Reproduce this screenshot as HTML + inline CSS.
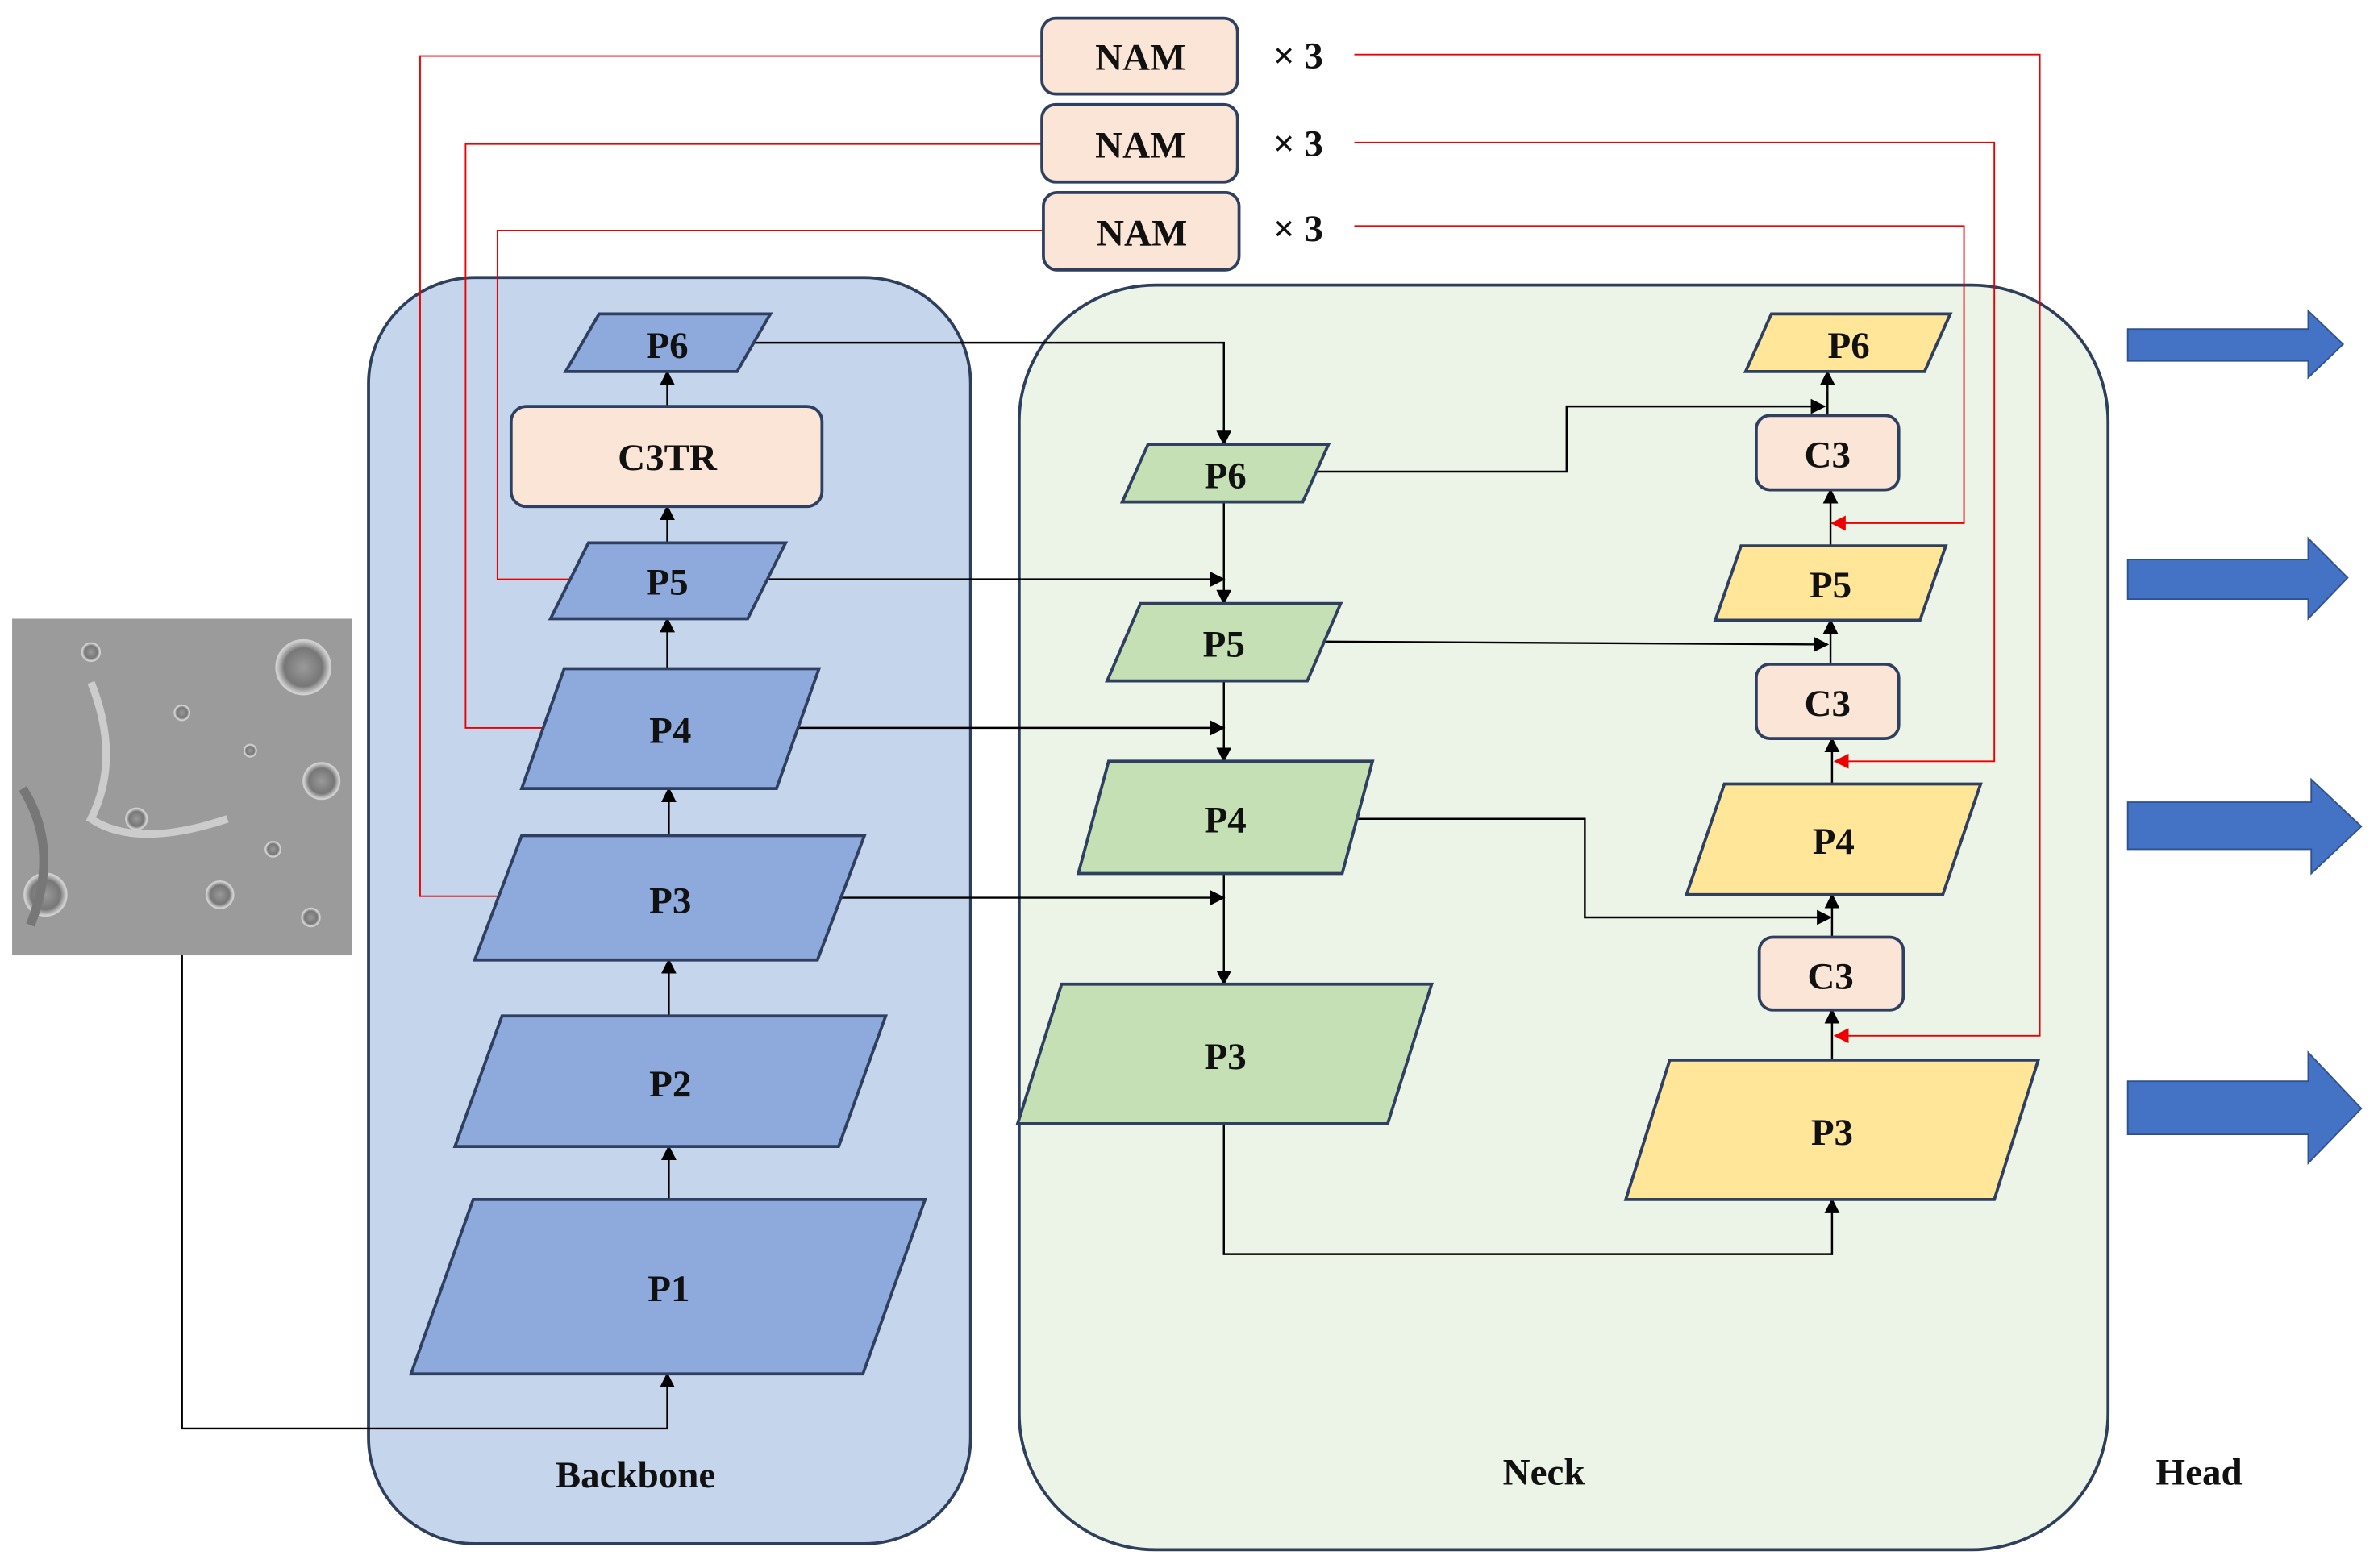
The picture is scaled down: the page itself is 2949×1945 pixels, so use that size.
<!DOCTYPE html>
<html><head><meta charset="utf-8"><style>
html,body{margin:0;padding:0;background:#fff;}
svg{display:block;}
text{font-family:"Liberation Serif",serif;font-weight:bold;fill:#111;}
</style></head><body>
<svg width="2949" height="1945" viewBox="0 0 1568 1034" preserveAspectRatio="none" xmlns="http://www.w3.org/2000/svg">
<defs>
<marker id="ab" markerWidth="10" markerHeight="10" refX="9" refY="5" orient="auto" markerUnits="userSpaceOnUse"><path d="M0,0 L10,5 L0,10 z" fill="#000"/></marker>
<marker id="ar" markerWidth="10" markerHeight="10" refX="9" refY="5" orient="auto" markerUnits="userSpaceOnUse"><path d="M0,0 L10,5 L0,10 z" fill="#e00"/></marker>
<radialGradient id="cr"><stop offset="0" stop-color="#9a9a9a"/><stop offset="0.7" stop-color="#777"/><stop offset="1" stop-color="#d8d8d8"/></radialGradient>
</defs>
<rect x="243" y="183" width="397" height="835" rx="70" fill="#c5d5ec" stroke="#2e3f5c" stroke-width="2"/>
<rect x="672" y="188" width="718" height="834" rx="90" fill="#ecf4e8" stroke="#2e3f5c" stroke-width="2"/>
<rect x="8" y="408" width="224" height="222" fill="#9b9b9b"/>
<g fill="url(#cr)" stroke="#cfcfcf" stroke-width="1">
<circle cx="200" cy="440" r="18"/><circle cx="212" cy="515" r="12"/><circle cx="145" cy="590" r="9"/><circle cx="30" cy="590" r="14"/><circle cx="180" cy="560" r="5"/><circle cx="60" cy="430" r="6"/><circle cx="120" cy="470" r="5"/><circle cx="90" cy="540" r="7"/><circle cx="205" cy="605" r="6"/><circle cx="165" cy="495" r="4"/>
</g>
<path d="M60,450 Q80,500 60,540 Q90,560 150,540" stroke="#ccc" stroke-width="5" fill="none"/>
<path d="M15,520 Q40,560 20,610" stroke="#777" stroke-width="6" fill="none"/>
<g stroke="#e00" stroke-width="1" fill="none">
<polyline points="687,37 277,37 277,591 332,591"/>
<polyline points="687,95 307,95 307,480 362,480"/>
<polyline points="688,152 328,152 328,382 375,382"/>
<polyline points="893,36 1345,36 1345,683 1210,683" marker-end="url(#ar)"/>
<polyline points="893,94 1315,94 1315,502 1210,502" marker-end="url(#ar)"/>
<polyline points="893,149 1295,149 1295,345 1208,345" marker-end="url(#ar)"/>
</g>
<g stroke="#000" stroke-width="1.3" fill="none" marker-end="url(#ab)">
<polyline points="120,630 120,942 440,942 440,906"/>
<line x1="441" y1="791" x2="441" y2="756"/>
<line x1="441" y1="670" x2="441" y2="633"/>
<line x1="441" y1="551" x2="441" y2="520"/>
<line x1="440" y1="441" x2="440" y2="408"/>
<line x1="440" y1="358" x2="440" y2="334"/>
<line x1="440" y1="268" x2="440" y2="245"/>
<polyline points="497,226 807,226 807,293"/>
<line x1="807" y1="331" x2="807" y2="398"/>
<line x1="505" y1="382" x2="807" y2="382"/>
<line x1="807" y1="449" x2="807" y2="502"/>
<line x1="520" y1="480" x2="807" y2="480"/>
<line x1="807" y1="576" x2="807" y2="649"/>
<line x1="545" y1="592" x2="807" y2="592"/>
<polyline points="807,741 807,827 1208,827 1208,791"/>
<line x1="1208" y1="699" x2="1208" y2="666"/>
<line x1="1208" y1="618" x2="1208" y2="590"/>
<polyline points="885,540 1045,540 1045,605 1207,605"/>
<line x1="1208" y1="517" x2="1208" y2="487"/>
<line x1="868" y1="423" x2="1205" y2="425"/>
<line x1="1207" y1="438" x2="1207" y2="409"/>
<line x1="1207" y1="360" x2="1207" y2="323"/>
<polyline points="862,311 1033,311 1033,268 1203,268"/>
<line x1="1205" y1="274" x2="1205" y2="245"/>
</g>
<g fill="#8eaadc" stroke="#2f3f5f" stroke-width="2">
<polygon points="373,245 395,207 508,207 486,245"/>
<polygon points="363,408 388,358 518,358 493,408"/>
<polygon points="344,520 372,441 540,441 512,520"/>
<polygon points="313,633 344,551 570,551 539,633"/>
<polygon points="300,756 331,670 584,670 553,756"/>
<polygon points="271,906 312,791 610,791 569,906"/>
</g>
<g fill="#fbe5d6" stroke="#2f3f5f" stroke-width="2">
<rect x="337" y="268" width="205" height="66" rx="10"/>
<rect x="1158" y="274" width="94" height="49" rx="9"/>
<rect x="1158" y="438" width="94" height="49" rx="9"/>
<rect x="1160" y="618" width="95" height="48" rx="9"/>
<rect x="687" y="12" width="129" height="50" rx="9"/>
<rect x="687" y="69" width="129" height="51" rx="9"/>
<rect x="688" y="127" width="129" height="51" rx="9"/>
</g>
<g fill="#c5e0b4" stroke="#2f3f5f" stroke-width="2">
<polygon points="740,331 757,293 876,293 859,331"/>
<polygon points="730,449 752,398 884,398 862,449"/>
<polygon points="711,576 731,502 905,502 885,576"/>
<polygon points="671,741 700,649 944,649 915,741"/>
</g>
<g fill="#ffe699" stroke="#2f3f5f" stroke-width="2">
<polygon points="1151,245 1168,207 1286,207 1269,245"/>
<polygon points="1131,409 1148,360 1283,360 1266,409"/>
<polygon points="1112,590 1137,517 1306,517 1281,590"/>
<polygon points="1072,791 1101,699 1344,699 1315,791"/>
</g>
<g fill="#4472c4" stroke="#2f528f" stroke-width="1">
<polygon points="1403,217 1522,217 1522,205 1545,227 1522,249 1522,238 1403,238"/>
<polygon points="1403,369 1522,369 1522,355 1548,381 1522,408 1522,395 1403,395"/>
<polygon points="1403,529 1524,529 1524,514 1557,545 1524,576 1524,560 1403,560"/>
<polygon points="1403,713 1522,713 1522,694 1557,731 1522,767 1522,748 1403,748"/>
</g>
<g font-size="25" text-anchor="middle" dominant-baseline="central">
<text x="440" y="228">P6</text>
<text x="440" y="302">C3TR</text>
<text x="440" y="384">P5</text>
<text x="442" y="482">P4</text>
<text x="442" y="594">P3</text>
<text x="442" y="715">P2</text>
<text x="441" y="850">P1</text>
<text x="808" y="314">P6</text>
<text x="807" y="425">P5</text>
<text x="808" y="541">P4</text>
<text x="808" y="697">P3</text>
<text x="1219" y="228">P6</text>
<text x="1205" y="300">C3</text>
<text x="1207" y="386">P5</text>
<text x="1205" y="464">C3</text>
<text x="1209" y="555">P4</text>
<text x="1207" y="644">C3</text>
<text x="1208" y="747">P3</text>
<text x="752" y="38">NAM</text>
<text x="752" y="96">NAM</text>
<text x="753" y="154">NAM</text>
<text x="856" y="37">× 3</text>
<text x="856" y="95">× 3</text>
<text x="856" y="151">× 3</text>
<text x="419" y="973">Backbone</text>
<text x="1018" y="971">Neck</text>
<text x="1450" y="971">Head</text>
</g>
</svg>
</body></html>
